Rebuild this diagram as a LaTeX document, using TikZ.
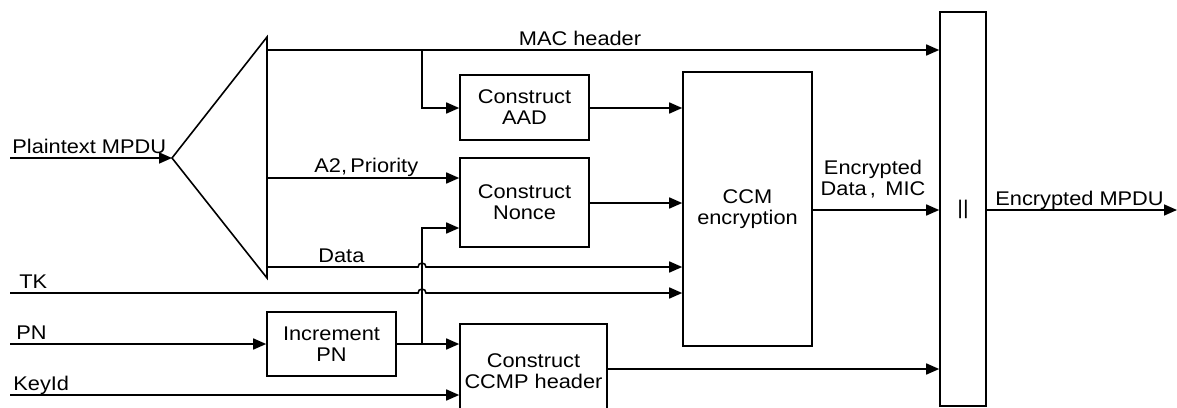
\documentclass[tikz,border=0pt]{standalone}
\usepackage{fontspec}
\setmainfont[FakeStretch=1.1]{Liberation Sans}
\usetikzlibrary{arrows.meta}
\begin{document}
\begin{tikzpicture}[x=0.5pt,y=-0.5pt,
  every node/.style={font=\fontsize{9.9}{10.5}\selectfont},
  box/.style={draw, line width=0.8pt, align=center, inner sep=0pt},
  ln/.style={line width=0.8pt},
  arr/.style={ln, -{Triangle[length=6.5pt,width=5.5pt]}},
  lbl/.style={inner sep=0pt, anchor=base west},
  lblc/.style={inner sep=0pt, anchor=base}]
\clip (0,0) rectangle (1177,407);
\useasboundingbox (0,0) rectangle (1177,407);

% triangle (splitter)
\coordinate (apex) at (172,158);
\coordinate (ttop) at (267,37);
\coordinate (tbot) at (267,278);
\draw[ln, line join=miter] (apex) -- (ttop) -- (tbot) -- cycle;

% boxes
\node[box, minimum width=64.5pt, minimum height=32.5pt] (aad) at (524.5,107.5) {Construct\\AAD};
\node[box, minimum width=64.5pt, minimum height=44.5pt] (nonce) at (524.5,202.5) {Construct\\Nonce};
\node[box, minimum width=64.5pt, minimum height=137pt] (ccm) at (747.5,209) {CCM\\encryption};
\node[box, minimum width=64.5pt, minimum height=32pt] (inc) at (331.5,344) {Increment\\PN};
\node[box, minimum width=73.5pt, minimum height=47pt] (ccmp) at (533.5,371) {Construct\\CCMP header};
\node[box, minimum width=23pt, minimum height=197pt] (bar) at (963,209) {||};

% input coordinates
\coordinate (pin) at (10,158);
\coordinate (tkin) at (10,293);
\coordinate (pnin) at (10,344);
\coordinate (kin) at (10,395);
\coordinate (out) at (1177,210);
\coordinate (mac0) at (267,50);
\coordinate (macb) at (422,50);
\coordinate (a20) at (267,178);
\coordinate (d0) at (267,267);
\coordinate (pnb) at (422,344);

% Plaintext MPDU
\draw[arr] (pin) -- (apex);
\node[lbl] (lpt) at (12,153) {Plaintext MPDU};

% MAC header
\draw[arr] (mac0) -- (bar.west |- mac0);
\node[lblc] (lmac) at (580,45) {MAC header};
\draw[arr] (macb) |- (aad.west |- 0,108);
\draw[arr] (aad.east |- 0,108) -- (ccm.west |- 0,108);

% A2, Priority
\draw[arr] (a20) -- (nonce.west |- a20);
\node[lbl] (la2) at (314,172) {A2,\,Priority};
\draw[arr] (nonce.east |- 0,203) -- (ccm.west |- 0,203);

% Data with hop
\draw[arr] (d0) -- (418,267) arc[start angle=180, end angle=360, radius=4] -- (ccm.west |- d0);
\node[lbl] (ldata) at (318,262) {Data};

% TK with hop
\draw[arr] (tkin) -- (418,293) arc[start angle=180, end angle=360, radius=4] -- (ccm.west |- tkin);
\node[lbl] (ltk) at (19,288) {TK};

% PN
\draw[arr] (pnin) -- (inc.west);
\node[lbl] (lpn) at (16,339) {PN};
\draw[arr] (inc.east) -- (ccmp.west |- inc.east);
\draw[arr] (pnb) |- (nonce.west |- 0,228);

% KeyId
\draw[arr] (kin) -- (ccmp.west |- kin);
\node[lbl] (lkey) at (13,390) {KeyId};

% CCMP header output
\draw[arr] (ccmp.east |- 0,369) -- (bar.west |- 0,369);

% Encrypted data, MIC
\draw[arr] (ccm.east |- 0,210) -- (bar.west |- 0,210);
\node[lblc, align=center] (led) at (873,195) {Encrypted\\Data\,,\, MIC};

% Encrypted MPDU
\draw[arr] (bar.east |- out) -- (out);
\node[lbl] (lout) at (995,205) {Encrypted MPDU};
\end{tikzpicture}
\end{document}
